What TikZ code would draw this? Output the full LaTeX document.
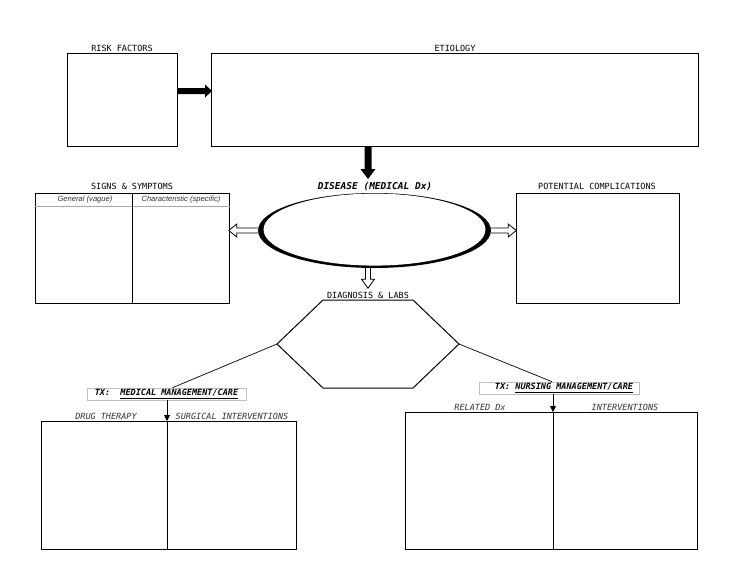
\documentclass[tikz,border=0pt]{standalone}
\usepackage{fontspec}
\newfontfamily\monof{DejaVu Sans Mono}
\newfontfamily\sansf{Liberation Sans}
\usetikzlibrary{shapes.geometric,calc,arrows.meta}
\begin{document}
\begin{tikzpicture}[x=1pt,y=-1pt,
  box/.style={draw, line width=1pt, inner sep=0, anchor=north west},
  lab/.style={font=\monof\fontsize{8.5}{10}\selectfont, inner sep=0},
  blab/.style={font=\monof\bfseries\itshape\fontsize{8.5}{10}\selectfont, inner sep=0},
  ilab/.style={font=\monof\itshape\fontsize{8.5}{10}\selectfont, inner sep=0, text=black!80},
  slab/.style={font=\sansf\itshape\fontsize{7.6}{9}\selectfont, inner sep=0, text=black!80},
  graybox/.style={draw=black!25, line width=0.6pt, inner sep=0},
  hollow/.style={draw, line width=0.8pt, fill=white, line join=miter},
  thin/.style={line width=0.7pt},
  tip/.style={-{Triangle[length=6pt,width=6pt]}, line width=0.8pt}]
\fill[white] (0,0) rectangle (736,586);
\path[use as bounding box] (0,0) rectangle (736,586);

% top boxes
\node[box, minimum width=110, minimum height=93] (risk) at (67,53) {};
\node[box, minimum width=487, minimum height=93] (etio) at (211,53) {};
\node[lab] (riskt) at (122,48) {RISK FACTORS};
\node[lab] (etiot) at (455,48) {ETIOLOGY};

% thick arrow risk -> etiology
\coordinate (ra) at (risk.east |- 0,91);
\fill[shift={(ra)}] (0,-3) -- (27,-3) -- (27,-6.5) -- (34,0) -- (27,6.5) -- (27,3) -- (0,3) -- cycle;

% thick arrow etiology -> disease
\coordinate (da) at (etio.south -| 368,0);
\fill[shift={(da)}] (-3.5,0) -- (3.5,0) -- (3.5,22) -- (7.5,22) -- (0,32) -- (-7.5,22) -- (-3.5,22) -- cycle;

% disease ellipse
\node[font=\monof\bfseries\itshape\fontsize{9.5}{11}\selectfont, inner sep=0] (dist) at (375,187) {DISEASE (MEDICAL Dx)};
\node[ellipse, fill=black, inner sep=0, minimum width=233, minimum height=75] (dis) at (374.5,230.5) {};
\node[ellipse, fill=white, inner sep=0, minimum width=222, minimum height=72] (disin) at (374.5,229.6) {};

% signs & symptoms
\node[box, minimum width=194, minimum height=110] (ss) at (35,193) {};
\node[lab] (sst) at (132,186) {SIGNS \& SYMPTOMS};
\draw[black!35, line width=0.6pt] ($(ss.north west)+(0,13)$) -- ($(ss.north east)+(0,13)$);
\draw[line width=1pt] ($(ss.north west)+(97,0)$) -- ($(ss.south west)+(97,0)$);
\node[slab] (gen) at (85,199.5) {General (vague)};
\node[slab] (char) at (181,199.5) {Characteristic (specific)};

% potential complications
\node[box, minimum width=163, minimum height=110] (comp) at (516,193) {};
\node[lab] (compt) at (597,186) {POTENTIAL COMPLICATIONS};

% hollow arrows
\coordinate (la) at (dis.west);
\draw[hollow, shift={(la)}] (0,-2.5) -- (-21,-2.5) -- (-21,-6.5) -- (-29,0) -- (-21,6.5) -- (-21,2.5) -- (0,2.5);
\coordinate (rra) at (dis.east);
\draw[hollow, shift={(rra)}] (0,-2.5) -- (17,-2.5) -- (17,-6.5) -- (25,0) -- (17,6.5) -- (17,2.5) -- (0,2.5);
\coordinate (dda) at (dis.south -| 368,0);
\draw[hollow, shift={(dda)}] (-2.5,0) -- (-2.5,11) -- (-6.5,11) -- (0,20) -- (6.5,11) -- (2.5,11) -- (2.5,0);

% diagnosis hexagon
\node[lab] (diagt) at (368,295) {DIAGNOSIS \& LABS};
\coordinate (hexL) at (277,344);
\coordinate (hexR) at (459,344);
\draw[line width=1pt, line join=miter] (323,300) -- (413,300) -- (hexR) -- (413,388) -- (323,388) -- (hexL) -- cycle;

% medical management
\node[graybox, minimum width=159, minimum height=12] (mlab) at (166.5,394) {};
\node[blab] (mlabt) at (166.5,394) {TX:\ \ \underline{MEDICAL MANAGEMENT/CARE}};
\draw[thin] (hexL) -- ($(mlab.north)+(6,0)$);
\node[box, minimum width=255, minimum height=128] (med) at (41,421) {};
\coordinate (mdiv) at ($(med.north west)+(126,0)$);
\draw[line width=1pt] (mdiv) -- ($(med.south west)+(126,0)$);
\draw[tip] (mlab.south -| mdiv) -- (mdiv);
\node[ilab] (drug) at (106,416) {DRUG THERAPY};
\node[ilab] (surg) at (232,416) {SURGICAL INTERVENTIONS};

% nursing management
\node[graybox, minimum width=160, minimum height=12] (nlab) at (559,388) {};
\node[blab] (nlabt) at (564,388) {TX: \underline{NURSING MANAGEMENT/CARE}};
\draw[thin] (hexR) -- ($(nlab.north)+(-7,0)$);
\node[box, minimum width=292, minimum height=137] (nurs) at (405,412) {};
\coordinate (ndiv) at ($(nurs.north west)+(148,0)$);
\draw[line width=1pt] (ndiv) -- ($(nurs.south west)+(148,0)$);
\draw[tip] (nlab.south -| ndiv) -- (ndiv);
\node[ilab] (rel) at (480,407) {RELATED Dx};
\node[ilab] (intv) at (625,407) {INTERVENTIONS};
\end{tikzpicture}
\end{document}
